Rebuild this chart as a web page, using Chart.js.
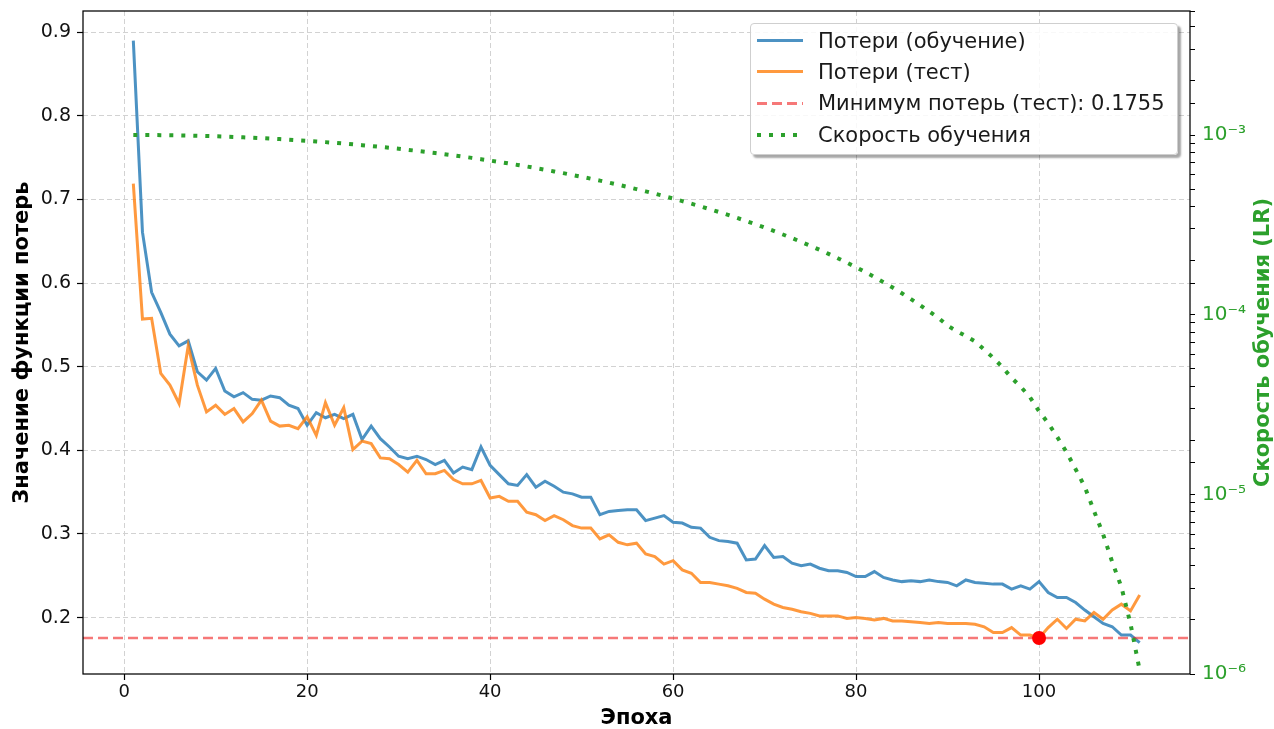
<!DOCTYPE html>
<html lang="ru">
<head>
<meta charset="utf-8">
<title>Потери и скорость обучения</title>
<script src="https://cdn.jsdelivr.net/npm/chart.js@4.4.1/dist/chart.umd.min.js"></script>
<style>
  html, body { margin: 0; padding: 0; background: #fff; }
  #wrap { position: relative; width: 1274px; height: 729px; }
  #legend {
    position: absolute;
    left: 750px; top: 23px; width: 428px; height: 132px;
    box-sizing: border-box;
    padding-top: 1px;
    background: rgba(255, 255, 255, 0.85);
    border: 1px solid #cfcfcf;
    border-radius: 4px;
    box-shadow: 3px 3px 2px rgba(0, 0, 0, 0.35);
    font-family: "DejaVu Sans", sans-serif;
    font-size: 21px;
    color: #1a1a1a;
  }
  .row { display: flex; align-items: center; height: 31.3px; }
  .sample { width: 46px; margin-left: 6px; margin-right: 15px; flex: none; }
  .row span { white-space: nowrap; }
</style>
</head>
<body>
<div id="wrap">
  <canvas id="lossChart"></canvas>
  <div id="legend"></div>
</div>
<script>
// chart data
const trainLoss = [
  0.890, 0.661, 0.589, 0.565, 0.539, 0.525, 0.531, 0.494, 0.484, 0.498,
  0.471, 0.464, 0.469, 0.461, 0.460, 0.465, 0.463, 0.454, 0.450, 0.430,
  0.445, 0.439, 0.443, 0.438, 0.443, 0.413, 0.429, 0.414, 0.404, 0.393,
  0.390, 0.393, 0.389, 0.383, 0.388, 0.373, 0.380, 0.377, 0.404, 0.382,
  0.371, 0.360, 0.358, 0.371, 0.356, 0.363, 0.357, 0.350, 0.348, 0.344,
  0.344, 0.323, 0.327, 0.328, 0.329, 0.329, 0.316, 0.319, 0.322, 0.314,
  0.313, 0.308, 0.307, 0.296, 0.292, 0.291, 0.289, 0.269, 0.270, 0.286,
  0.272, 0.273, 0.265, 0.262, 0.264, 0.259, 0.256, 0.256, 0.254, 0.249,
  0.249, 0.255, 0.248, 0.245, 0.243, 0.244, 0.243, 0.245, 0.243, 0.242,
  0.238, 0.245, 0.242, 0.241, 0.240, 0.240, 0.234, 0.238, 0.234, 0.243,
  0.230, 0.224, 0.224, 0.218, 0.209, 0.201, 0.193, 0.189, 0.179, 0.179,
  0.170
];

const testLoss = [
  0.719, 0.557, 0.558, 0.492, 0.478, 0.456, 0.525, 0.478, 0.446, 0.454,
  0.443, 0.450, 0.434, 0.444, 0.460, 0.435, 0.429, 0.430, 0.426, 0.440,
  0.418, 0.457, 0.430, 0.451, 0.401, 0.411, 0.408, 0.391, 0.390, 0.383,
  0.374, 0.388, 0.372, 0.372, 0.376, 0.365, 0.360, 0.360, 0.364, 0.343,
  0.345, 0.339, 0.339, 0.326, 0.323, 0.316, 0.322, 0.317, 0.310, 0.307,
  0.307, 0.294, 0.299, 0.290, 0.287, 0.289, 0.276, 0.273, 0.264, 0.268,
  0.257, 0.253, 0.242, 0.242, 0.240, 0.238, 0.235, 0.230, 0.229, 0.222,
  0.216, 0.212, 0.210, 0.207, 0.205, 0.202, 0.202, 0.202, 0.199, 0.200,
  0.199, 0.197, 0.199, 0.196, 0.196, 0.195, 0.194, 0.193, 0.194, 0.193,
  0.193, 0.193, 0.192, 0.189, 0.182, 0.182, 0.188, 0.179, 0.179, 0.1755,
  0.188, 0.198, 0.187, 0.198, 0.196, 0.206, 0.198, 0.209, 0.216, 0.208,
  0.227
];

// learning rate, in units of 1e-3
const learningRateE3 = [
  1.0000, 0.9998, 0.9992, 0.9982, 0.9967, 0.9949, 0.9927, 0.9900, 0.9870, 0.9836,
  0.9797, 0.9755, 0.9709, 0.9659, 0.9606, 0.9548, 0.9487, 0.9422, 0.9354, 0.9282,
  0.9206, 0.9128, 0.9045, 0.8959, 0.8870, 0.8779, 0.8684, 0.8586, 0.8485, 0.8381,
  0.8273, 0.8163, 0.8053, 0.7939, 0.7822, 0.7703, 0.7582, 0.7459, 0.7333, 0.7206,
  0.7077, 0.6946, 0.6814, 0.6680, 0.6545, 0.6409, 0.6271, 0.6133, 0.5993, 0.5853,
  0.5712, 0.5570, 0.5428, 0.5285, 0.5143, 0.5000, 0.4857, 0.4715, 0.4572, 0.4430,
  0.4288, 0.4147, 0.4007, 0.3867, 0.3729, 0.3591, 0.3455, 0.3320, 0.3186, 0.3054,
  0.2923, 0.2794, 0.2667, 0.2541, 0.2418, 0.2297, 0.2178, 0.2061, 0.1947, 0.1837,
  0.1727, 0.1620, 0.1515, 0.1415, 0.1316, 0.1221, 0.1130, 0.1041, 0.0960, 0.0870,
  0.0810, 0.0760, 0.0710, 0.0640, 0.0575, 0.0510, 0.0445, 0.0397, 0.0348, 0.0290,
  0.0249, 0.0208, 0.0172, 0.0138, 0.0110, 0.0081, 0.0060, 0.0042, 0.00305, 0.0019,
  0.00105
];

const epochs = trainLoss.map((_, i) => i + 1);

const minTestLoss = 0.1755;
const minTestEpoch = 100;

const xTicks = [0, 20, 40, 60, 80, 100];
const lossTicks = [0.2, 0.3, 0.4, 0.5, 0.6, 0.7, 0.8, 0.9];

const labels = {
  train: "Потери (обучение)",
  test: "Потери (тест)",
  minLine: "Минимум потерь (тест): " + minTestLoss.toFixed(4),
  lr: "Скорость обучения",
  xTitle: "Эпоха",
  yTitle: "Значение функции потерь",
  lrTitle: "Скорость обучения (LR)",
};

const X_MIN = -4.5, X_MAX = 116.5;
const LOSS_MIN = 0.1325, LOSS_MAX = 0.9255;
const LR_MIN = 1.0e-6, LR_MAX = 4.9e-3;

const colors = {
  train: "rgba(31, 119, 180, 0.8)",
  test: "rgba(255, 127, 14, 0.8)",
  minLine: "rgba(240, 30, 30, 0.6)",
  lr: "#2ca02c",
  dot: "#ff0000",
  grid: "#d2d2d2",
};

const FONT = "'DejaVu Sans', sans-serif";

const toPoints = (values) => values.map((v, i) => ({ x: epochs[i], y: v }));

const superDigits = { "0": "⁰", "1": "¹", "2": "²", "3": "³", "4": "⁴", "5": "⁵", "6": "⁶", "7": "⁷", "8": "⁸", "9": "⁹", "-": "⁻" };
function powerLabel(value) {
  const p = Math.log10(value);
  const r = Math.round(p);
  if (Math.abs(p - r) > 1e-6) return "";
  return "10" + String(r).split("").map((c) => superDigits[c]).join("");
}

// no extra room for half tick labels, the plot box is fixed
function noPadding(scale) {
  scale.paddingTop = 0;
  scale.paddingBottom = 0;
  scale.paddingLeft = 0;
  scale.paddingRight = 0;
}

// chart frame (all four spines) and the right axis title, read bottom to top
const framePlugin = {
  id: "frame",
  afterDatasetsDraw(chart) {
    const { ctx, chartArea: a } = chart;
    ctx.save();
    ctx.strokeStyle = "#000";
    ctx.lineWidth = 1.25;
    ctx.strokeRect(a.left, a.top, a.right - a.left, a.bottom - a.top);
    ctx.restore();
  },
  afterDraw(chart) {
    const { ctx, chartArea: a } = chart;
    const lrScale = chart.scales.yLr;
    ctx.save();
    ctx.translate(lrScale.right - 10, (a.top + a.bottom) / 2);
    ctx.rotate(-Math.PI / 2);
    ctx.font = "bold 21px " + FONT;
    ctx.fillStyle = colors.lr;
    ctx.textAlign = "center";
    ctx.textBaseline = "middle";
    ctx.fillText(labels.lrTitle, 0, 0);
    ctx.restore();
  },
};

function renderLossChart() {
  const ctx = document.getElementById("lossChart").getContext("2d");

  new Chart(ctx, {
    type: "line",
    data: {
      datasets: [
        {
          label: labels.lr,
          data: learningRateE3.map((v, i) => ({ x: epochs[i], y: v * 1e-3 })),
          yAxisID: "yLr",
          borderColor: colors.lr,
          borderWidth: 4,
          borderDash: [4, 8],
          borderCapStyle: "butt",
          pointRadius: 0,
          order: 0,
        },
        {
          type: "scatter",
          label: "min",
          data: [{ x: minTestEpoch, y: minTestLoss }],
          yAxisID: "y",
          backgroundColor: colors.dot,
          borderWidth: 0,
          pointRadius: 7,
          order: 1,
        },
        {
          label: labels.minLine,
          data: [{ x: X_MIN, y: minTestLoss }, { x: X_MAX, y: minTestLoss }],
          yAxisID: "y",
          borderColor: colors.minLine,
          borderWidth: 2.5,
          borderDash: [10, 5],
          pointRadius: 0,
          order: 2,
        },
        {
          label: labels.test,
          data: toPoints(testLoss),
          yAxisID: "y",
          borderColor: colors.test,
          borderWidth: 3,
          pointRadius: 0,
          order: 3,
        },
        {
          label: labels.train,
          data: toPoints(trainLoss),
          yAxisID: "y",
          borderColor: colors.train,
          borderWidth: 3,
          pointRadius: 0,
          order: 4,
        },
      ],
    },
    options: {
      responsive: true,
      maintainAspectRatio: false,
      animation: false,
      layout: { padding: { top: 11, left: 0, right: 0, bottom: 0 } },
      plugins: {
        legend: { display: false },
        tooltip: { enabled: false },
      },
      scales: {
        x: {
          type: "linear",
          min: X_MIN,
          max: X_MAX,
          afterBuildTicks: (scale) => { scale.ticks = xTicks.map((v) => ({ value: v })); },
          afterFit: (scale) => { scale.height = 55; noPadding(scale); },
          ticks: {
            color: "#111",
            font: { family: FONT, size: 18 },
            padding: 2,
            maxRotation: 0,
            callback: (v) => String(v),
          },
          grid: {
            color: colors.grid,
            lineWidth: 1,
            tickColor: "#000",
            tickLength: 6,
            tickWidth: 1.2,
            tickBorderDash: [],
          },
          border: { display: false, dash: [5, 3] },
          title: {
            display: true,
            text: labels.xTitle,
            color: "#000",
            font: { family: FONT, size: 21, weight: "bold", lineHeight: 1 },
            padding: { top: 0, bottom: 0 },
          },
        },
        y: {
          type: "linear",
          position: "left",
          min: LOSS_MIN,
          max: LOSS_MAX,
          afterBuildTicks: (scale) => { scale.ticks = lossTicks.map((v) => ({ value: v })); },
          afterFit: (scale) => { scale.width = 83; noPadding(scale); },
          ticks: {
            color: "#111",
            font: { family: FONT, size: 19 },
            padding: 6,
            callback: (v) => v.toFixed(1),
          },
          grid: {
            color: colors.grid,
            lineWidth: 1,
            tickColor: "#000",
            tickLength: 6,
            tickWidth: 1.2,
            tickBorderDash: [],
          },
          border: { display: false, dash: [5, 3] },
          title: {
            display: true,
            text: labels.yTitle,
            color: "#000",
            font: { family: FONT, size: 21, weight: "bold", lineHeight: 1 },
            padding: { top: 12, bottom: 0 },
          },
        },
        yLr: {
          type: "logarithmic",
          position: "right",
          min: LR_MIN,
          max: LR_MAX,
          afterFit: (scale) => { scale.width = 84; noPadding(scale); },
          ticks: {
            color: colors.lr,
            font: { family: FONT, size: 20 },
            padding: 7,
            autoSkip: false,
            callback: (v) => powerLabel(v),
          },
          grid: {
            drawOnChartArea: false,
            tickColor: "#000",
            tickLength: 5,
            tickWidth: 1,
            tickBorderDash: [],
          },
          border: { display: false },
        },
      },
    },
    plugins: [framePlugin],
  });
}

function renderLegend() {
  const entries = [
    { text: labels.train, bg: colors.train, h: 3 },
    { text: labels.test, bg: colors.test, h: 3 },
    {
      text: labels.minLine, h: 3,
      bg: "repeating-linear-gradient(to right, " + colors.minLine + " 0 10px, transparent 10px 15px)",
    },
    {
      text: labels.lr, h: 4,
      bg: "repeating-linear-gradient(to right, " + colors.lr + " 0 4px, transparent 4px 12px)",
    },
  ];
  const legend = document.getElementById("legend");
  legend.innerHTML = entries
    .map((e) => `
      <div class="row">
        <div class="sample" style="height:${e.h}px;background:${e.bg}"></div>
        <span>${e.text}</span>
      </div>`)
    .join("");
}

renderLossChart();
renderLegend();
</script>
</body>
</html>
